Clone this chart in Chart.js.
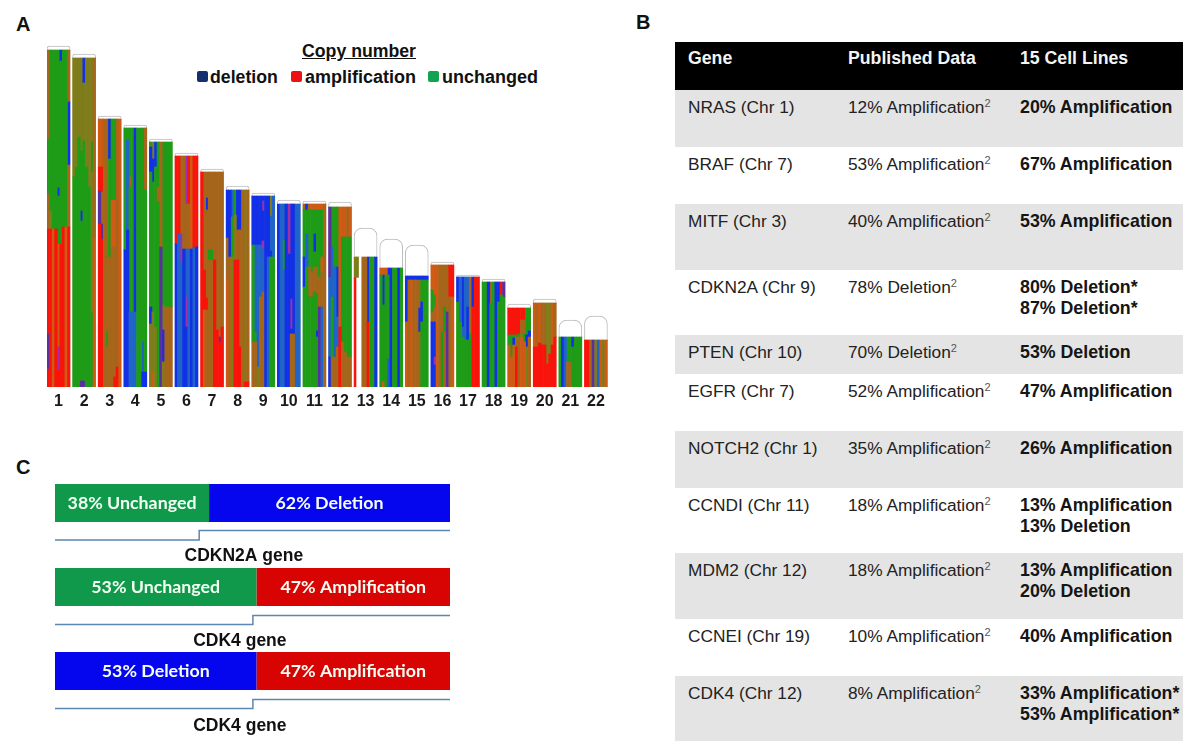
<!DOCTYPE html>
<html><head><meta charset="utf-8">
<script src="https://cdn.jsdelivr.net/npm/chart.js@4"></script>
<style>
html,body{margin:0;padding:0;background:#fff;width:1200px;height:751px;overflow:hidden;font-family:"Liberation Sans",Arial,sans-serif;color:#111}
canvas{position:absolute;display:block}
#a{left:0;top:0;filter:blur(.45px)}
#c{left:0;top:450px}
.t{position:absolute;white-space:nowrap;font-weight:bold}
.sq{position:absolute;width:11px;height:11px;border-radius:2px}
table{position:absolute;left:675px;top:42px;width:508px;border-collapse:collapse;table-layout:fixed;font-size:17.3px;line-height:21px;color:#222}
td{padding:7px 0 0 0;vertical-align:top;white-space:nowrap}
td:first-child{padding-left:13px}
td:last-child{font-weight:bold;font-size:17.8px;color:#151515}
tr.g{background:#e4e4e4}
tr.h{background:#000;color:#fff;font-weight:bold}
tr.h td,tr.h td:last-child{color:#f4f4f4;font-size:17.7px;padding-top:6px}
sup{font-size:11px;line-height:0;vertical-align:baseline;position:relative;top:-6px;color:#555}
</style></head><body>
<div class="t" style="left:16px;top:13px;font-size:20px">A</div>
<div class="t" style="left:636px;top:11px;font-size:20px">B</div>
<div class="t" style="left:16px;top:456px;font-size:20px">C</div>
<div class="t" style="left:302px;top:41px;font-size:17.7px;text-decoration:underline">Copy number</div>
<div class="sq" style="left:197px;top:71px;background:#12306e"></div>
<div class="t" style="left:210px;top:67px;font-size:17.7px">deletion</div>
<div class="sq" style="left:291px;top:71px;background:#ee1111"></div>
<div class="t" style="left:305px;top:67px;font-size:18px">amplification</div>
<div class="sq" style="left:428px;top:71px;background:#11a352"></div>
<div class="t" style="left:442px;top:67px;font-size:18px">unchanged</div>
<canvas id="a" width="640" height="420"></canvas>
<canvas id="c" width="470" height="290"></canvas>
<table id="tbl"><colgroup><col style="width:173px"><col style="width:172px"><col style="width:163px"></colgroup><tbody></tbody></table>
<script>
// ---------- Panel A: copy-number lanes, bottom-up "colour+height" runs ----------
const chromosomes = ['1','2','3','4','5','6','7','8','9','10','11','12','13','14','15','16','17','18','19','20','21','22'];
const capTops = [341,333,271,262,248,234,218,201,194,187,186,185,159,148,142,125,112,108,83,88,67,71];
const chr1 = ['R18 P35 R105 O35 G55 O89','R158 L18 G161','A158 G179','R158 G179','R17 M23 A103 G48 B8 G138','R143 G183 B11','R160 G177','A160 G177','R160 O62 B63 O52'];
const chr2 = ['G210 L119','G220 L109','G250 L79','P6 G160 B10 G60 L93','P6 G240 L58 B25','G220 L109','G200 L129','G75 L140 G30 L84','A150 O179'];
const chr3 = ['R163 P33 R24 A48','R148 P15 O32 R25 A48','O268','O40 G15 O213','O130 G98 B40','O140 A47 G81','R10 O130 A47 G81','R20 O248','A268'];
const chr4 = ['B137 G122','B157 S90 G12','S75 G125 O10 G49','S75 G184','S75 B184','G259','G259','B15 S30 G214','B15 G182 O62'];
const chr5 = ['L63 B17 G135 B25 G5','A15 L60 G130 B23 L17','L60 G160 B25','G185 O15 G45','P140 O105','L25 B32 L25 G163','O80 G165','O80 G165','O80 G165'];
const chr6 = ['B143 R88','S153 R78','S125 M28 O78','B138 O93','B60 M30 S48 O45 M48','S138 O45 R48','B138 A93','S140 R91','B140 R91'];
const chr7 = ['R215','A77 R40 O98','O77 R12 O88 B12 O26','O127 G10 O78','O127 G10 O78','R127 O88','R57 O158','R45 P5 O165','R60 O155'];
const chr8 = ['A107 O42 B48','O130 B67','L130 G40 S27','R127 L45 G25','R127 O30 B40','R40 O117 B40','O197','R5 L192','R5 O192'];
const chr9 = ['O45 G97 B49','O45 G10 S87 B49','L20 S122 B49','O90 S52 B49','O95 S43 M8 B30 M10 B5','B191','S130 B61','G130 B6 S35 L20','G130 S61'];
const chr10 = ['B183','S183','S117 G30 S36','B183','B133 M50','O53 B5 M30 B95','O53 B130','S183','S183'];
const chr11 = ['G100 B30 G47 O6','G120 S33 G24 B6','G90 O30 G57 O6','G90 O25 G62 A6','G95 O25 G15 B18 G24 A6','G50 B6 G37 O27 G57 A6','P80 O30 G67 A6','S80 O35 A15 G47 A6','O183'];
const chr12 = ['B30 S80 P70','O30 G60 S50 G40','O30 S90 G60','O40 S30 B50 G60','R60 A120','O45 G105 A30','O35 G115 A30','O30 G120 O30','O30 G120 A30'];
const chr13 = ['R109 L21','W109 L21','W130','O130','O130','R65 B65','G130','G130','B130'];
const chr14 = ['G112 A7','A5 G77 B30 A7','G112 A7','S28 G84 B7','B119','G119','G119','B119','G119'];
const chr15 = ['A65 B46','O107 B4','A107 B4','O107 B4','O107 B4','O55 B24 O28 B4','G65 B20 G22 B4','G107 B4','G107 B4'];
const chr16 = ['B65 O10 G22 A25','B22 M8 B35 O15 G12 A30','A122','O122','G55 O67','O55 G25 O42','P75 O47','O90 R32','A90 R32'];
const chr17 = ['G85 B25','G65 S45','G50 S10 B50','G47 S63','G47 B33 S30','G53 O57','R80 B30','R110','R110'];
const chr18 = ['G105','G105','B105','G84 O21','G105','B105','G85 B20','G92 R13','G90 P15'];
const chr19 = ['A42 G10 R27','A30 G22 R27','A42 B7 G3 R27','R40 O10 G2 R27','O50 G3 R26','A50 L3 O14 R12','A45 G8 O14 R12','L40 B12 G27','O50 B6 G23'];
const chr20 = ['R40 A44','R40 O44','R44 A40','R42 O42','R42 O42','R23 L61','R33 L51','R42 A42','R50 O34'];
const chr21 = ['G50','B50','S50','O25 G25','O25 G25','G40 B10','G50','G50','G50'];
const chr22 = ['R47','R47','O47','P47','L47','S47','A47','L47','A47'];
const allChr = [chr1,chr2,chr3,chr4,chr5,chr6,chr7,chr8,chr9,chr10,chr11,chr12,chr13,chr14,chr15,chr16,chr17,chr18,chr19,chr20,chr21,chr22];
const palette = {G:'#1f9c17',O:'#a5651a',L:'#7f7d1b',A:'#cf5a14',R:'#f9140b',B:'#1230e6',S:'#1f64c6',P:'#5a2f9f',M:'#a030a8',W:'#ffffff'};

// ---------- Panel C ----------
const geneLabels = ['CDKN2A gene','CDK4 gene','CDK4 gene'];
const firstShare = [39,51,51];
const secondShare = [61,49,49];
const firstText = ['38% Unchanged','53% Unchanged','53% Deletion'];
const secondText = ['62% Deletion','47% Amplification','47% Amplification'];
const firstColor = ['#10994b','#10994b','#0606ee'];
const secondColor = ['#0606ee','#d80404','#d80404'];
const stepX = [36.5,50.1,50.1];
const stepLow = [79,163.5,247.5];
const stepHigh = [69.5,154.5,238.5];
const geneCentre = [47.8,46.8,46.8];
const geneY = [95,180,265];

// ---------- Panel B ----------
const tableHead = ['Gene','Published Data','15 Cell Lines'];
const geneCol = ['NRAS (Chr 1)','BRAF (Chr 7)','MITF (Chr 3)','CDKN2A (Chr 9)','PTEN (Chr 10)','EGFR (Chr 7)','NOTCH2 (Chr 1)','CCNDI (Chr 11)','MDM2 (Chr 12)','CCNEI (Chr 19)','CDK4 (Chr 12)'];
const publishedCol = ['12% Amplification','53% Amplification','40% Amplification','78% Deletion','70% Deletion','52% Amplification','35% Amplification','18% Amplification','18% Amplification','10% Amplification','8% Amplification'];
const cellLinesCol = [['20% Amplification'],['67% Amplification'],['53% Amplification'],['80% Deletion*','87% Deletion*'],['53% Deletion'],['47% Amplification'],['26% Amplification'],['13% Amplification','13% Deletion'],['13% Amplification','20% Deletion'],['40% Amplification'],['33% Amplification*','53% Amplification*']];
const rowHeights = [57,57,66,65,39,57,57,65,66,57,65];

const body = document.querySelector('#tbl tbody');
let html = '<tr class="h" style="height:48px">'+tableHead.map(h=>'<td>'+h+'</td>').join('')+'</tr>';
geneCol.forEach((g,i)=>{
  html += '<tr class="'+(i%2===0?'g':'')+'" style="height:'+rowHeights[i]+'px"><td>'+g+'</td><td>'+publishedCol[i]+'<sup>2</sup></td><td>'+cellLinesCol[i].join('<br>')+'</td></tr>';
});
body.innerHTML = html;

// Panel A datasets
const lanesPerChr = 10; // nine lanes plus a gap
const laneLabels = [];
const laneRuns = [];
allChr.forEach((lanes,c)=>{
  for(let l=0;l<lanesPerChr;l++){
    laneLabels.push(l===4?chromosomes[c]:'');
    const s = lanes[l];
    laneRuns.push(s?s.split(' ').map(r=>({k:r[0],v:+r.slice(1)})):[]);
  }
});
const maxRuns = Math.max(...laneRuns.map(r=>r.length));
const laneSets = [];
for(let s=0;s<maxRuns;s++){
  laneSets.push({
    stack:'lanes',order:1,
    data:laneRuns.map(r=>r[s]?r[s].v:null),
    backgroundColor:laneRuns.map(r=>r[s]?palette[r[s].k]:'#fff'),
    barPercentage:1,categoryPercentage:1,borderWidth:0
  });
}
const chrTops = allChr.map(lanes=>Math.max(...lanes.map(s=>s.split(' ').reduce((a,r)=>a+ +r.slice(1),0))));
const capData = laneLabels.map((lab,i)=>{
  if(i%lanesPerChr!==4) return null;
  const c=(i-4)/lanesPerChr;
  return [chrTops[c]-1,capTops[c]];
});
const capSet = {stack:'cap',grouped:false,order:5,data:capData,backgroundColor:'#fff',borderColor:'#bdbdbd',borderWidth:1,
  borderSkipped:'bottom',borderRadius:{topLeft:8,topRight:8,bottomLeft:0,bottomRight:0},barThickness:23};

new Chart(document.getElementById('a'),{
  type:'bar',
  data:{labels:laneLabels,datasets:[capSet,...laneSets]},
  options:{
    responsive:false,animation:false,
    layout:{padding:{left:47,right:30,top:37,bottom:0}},
    plugins:{legend:{display:false},tooltip:{enabled:false}},
    scales:{
      x:{stacked:true,grid:{display:false,drawTicks:false},border:{display:false},
        afterFit(s){s.height=33;},
        ticks:{autoSkip:false,maxRotation:0,minRotation:0,padding:5,color:'#1a1a1a',font:{family:'Liberation Sans',weight:'bold',size:16},callback(v){return laneLabels[v];}}},
      y:{stacked:true,display:false,min:0,max:350}
    }
  }
});

// Panel C chart
const segmentText = {
  id:'segmentText',
  afterDatasetsDraw(chart){
    const ctx=chart.ctx;
    ctx.save();
    ctx.textAlign='center';ctx.textBaseline='middle';
    ctx.fillStyle='#f4fff4';ctx.font='bold 17.8px Lato';
    [firstText,secondText].forEach((txt,d)=>{
      chart.getDatasetMeta(d).data.forEach((el,i)=>{
        const p=el.getCenterPoint();
        ctx.fillText(txt[i],p.x,p.y);
      });
    });
    ctx.fillStyle='#111';ctx.font='bold 17.5px "Liberation Sans"';
    const xs=chart.scales.x,ys=chart.scales.yL;
    geneLabels.forEach((g,i)=>ctx.fillText(g,xs.getPixelForValue(geneCentre[i]),ys.getPixelForValue(geneY[i])));
    ctx.restore();
  }
};
const stepSets = stepX.map((sx,i)=>({
  type:'scatter',showLine:true,xAxisID:'xL',yAxisID:'yL',pointRadius:0,borderColor:'#5b87b2',borderWidth:1.5,tension:0,
  data:[{x:0,y:stepLow[i]},{x:sx,y:stepLow[i]},{x:sx,y:stepHigh[i]},{x:100,y:stepHigh[i]}]
}));
new Chart(document.getElementById('c'),{
  type:'bar',
  data:{labels:geneLabels,datasets:[
    {indexAxis:'y',stack:'s',grouped:false,xAxisID:'x',yAxisID:'y',data:firstShare,backgroundColor:firstColor,barPercentage:0.45,categoryPercentage:1,borderWidth:0},
    {indexAxis:'y',stack:'s',grouped:false,xAxisID:'x',yAxisID:'y',data:secondShare,backgroundColor:secondColor,barPercentage:0.45,categoryPercentage:1,borderWidth:0},
    ...stepSets
  ]},
  options:{
    responsive:false,animation:false,
    layout:{padding:{left:55,right:20,top:11,bottom:27}},
    plugins:{legend:{display:false},tooltip:{enabled:false}},
    scales:{
      x:{type:'linear',stacked:true,display:false,min:0,max:100,offset:false},
      y:{type:'category',stacked:true,display:false,offset:true},
      xL:{type:'linear',display:false,min:0,max:100,offset:false},
      yL:{type:'linear',display:false,min:0,max:252,reverse:true,offset:false}
    }
  },
  plugins:[segmentText]
});
</script>
</body></html>
